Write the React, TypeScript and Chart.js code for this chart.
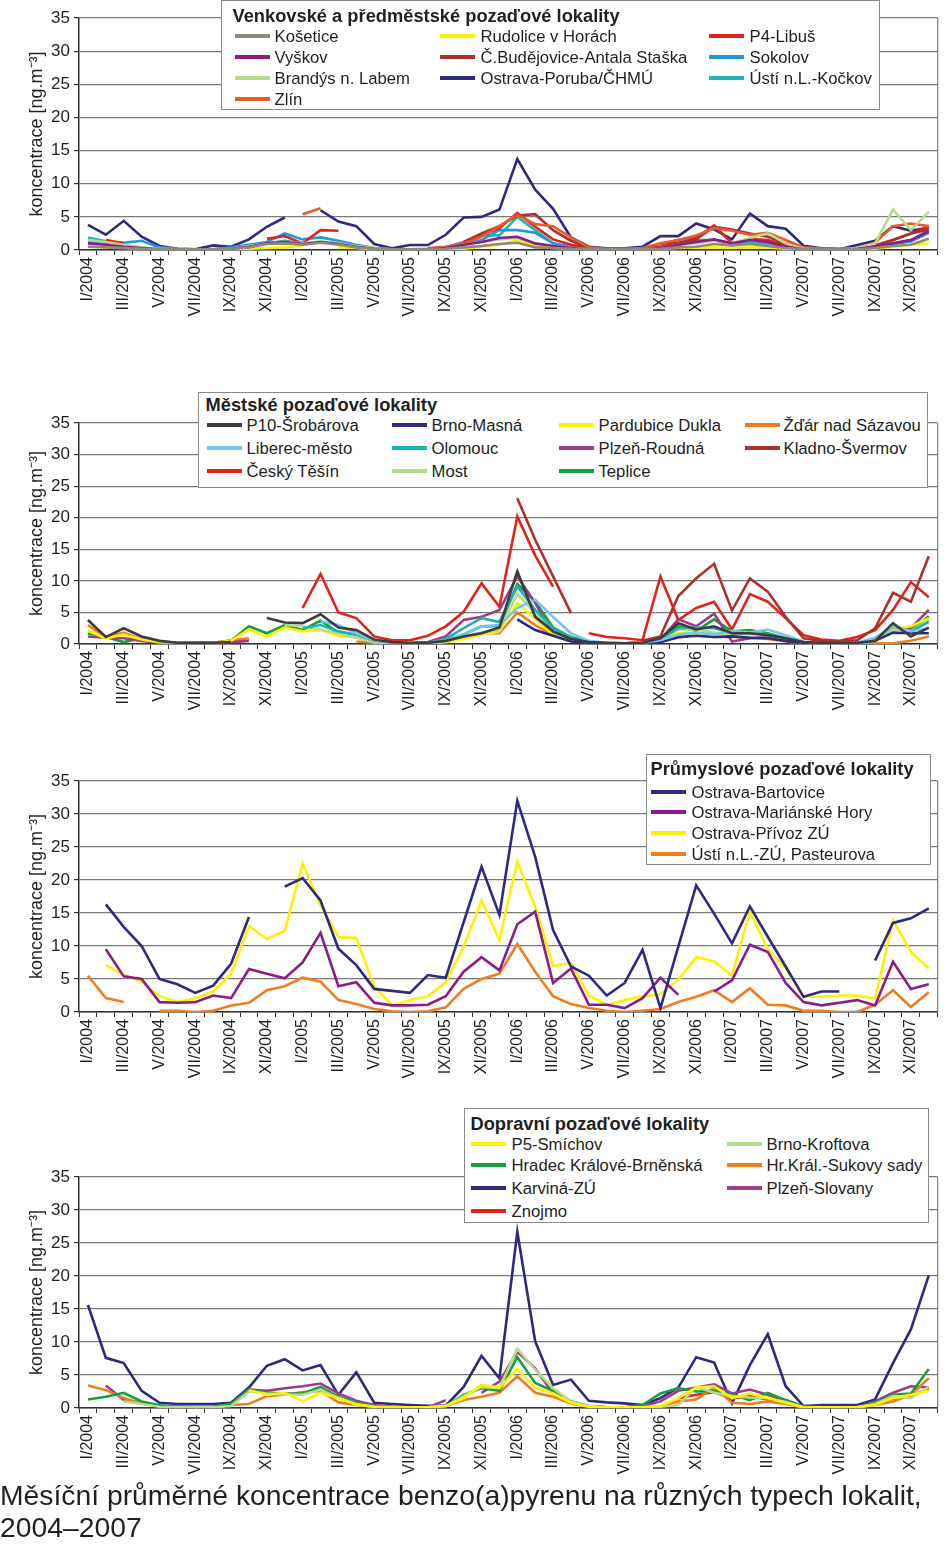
import React, { useEffect, useRef } from 'react';
import { Chart, registerables } from 'chart.js';

Chart.register(...registerables);

const FONT = "'Liberation Sans', Arial, Helvetica, sans-serif";
const TEXT = '#231f20';

const CATEGORIES = [
  'I/2004', 'II/2004', 'III/2004', 'IV/2004', 'V/2004', 'VI/2004', 'VII/2004', 'VIII/2004', 'IX/2004', 'X/2004', 'XI/2004', 'XII/2004',
  'I/2005', 'II/2005', 'III/2005', 'IV/2005', 'V/2005', 'VI/2005', 'VII/2005', 'VIII/2005', 'IX/2005', 'X/2005', 'XI/2005', 'XII/2005',
  'I/2006', 'II/2006', 'III/2006', 'IV/2006', 'V/2006', 'VI/2006', 'VII/2006', 'VIII/2006', 'IX/2006', 'X/2006', 'XI/2006', 'XII/2006',
  'I/2007', 'II/2007', 'III/2007', 'IV/2007', 'V/2007', 'VI/2007', 'VII/2007', 'VIII/2007', 'IX/2007', 'X/2007', 'XI/2007', 'XII/2007',
];

const Y_TICKS = [0, 5, 10, 15, 20, 25, 30, 35];
const Y_TITLE = 'koncentrace [ng.m⁻³]';
const _ = null;

// ---------- Panel 1: Venkovské a předměstské pozaďové lokality ----------
const kosetice = [
  0.5, 0.4, 0.3, 0.2, 0.1, 0.1, 0.1, 0.1, 0.2, 0.4, 0.9, 1.0,
  0.8, 1.1, 0.8, 0.4, 0.2, 0.1, 0.1, 0.1, 0.2, 0.4, 0.6, 0.9,
  1.1, 0.4, 0.3, 0.2, 0.1, 0.1, 0.1, 0.1, 0.2, 0.4, 0.5, 0.9,
  0.7, 0.9, 0.6, 0.3, 0.1, 0.1, 0.1, 0.1, 0.3, 0.6, 0.8, 1.7,
];
const vyskov = [
  1.0, 0.8, 0.5, 0.3, 0.1, 0.1, 0.1, 0.1, 0.2, 0.5, 1.0, 1.2,
  0.9, 1.2, 0.9, 0.5, 0.2, 0.1, 0.1, 0.1, 0.3, 0.8, 1.2, 1.8,
  2.0, 1.0, 0.6, 0.3, 0.1, 0.1, 0.1, 0.1, 0.3, 0.8, 1.2, 1.6,
  1.0, 1.5, 1.2, 0.5, 0.1, 0.1, 0.1, 0.2, 0.5, 1.0, 1.5, 2.8,
];
const brandys = [
  1.5, 1.2, 0.8, 0.4, 0.2, 0.1, 0.1, 0.1, 0.2, 0.6, 1.0, 1.2,
  1.0, 1.3, 1.0, 0.6, 0.3, 0.1, 0.1, 0.1, 0.3, 0.8, 1.2, 1.6,
  1.8, 0.9, 0.6, 0.3, 0.1, 0.1, 0.1, 0.1, 0.3, 0.8, 1.0, 1.4,
  1.0, 1.8, 2.5, 1.0, 0.2, 0.1, 0.1, 0.3, 1.0, 6.1, 3.0, 5.8,
];
const zlin = [
  _, _, _, _, _, _, _, _, _, _, _, _,
  5.4, 6.3, _, _, _, _, _, 0.3, 0.5, 1.0, 2.0, 3.6,
  5.3, 3.9, 3.6, 1.9, 0.4, 0.2, 0.2, 0.3, 1.0, 1.5, 2.2, 3.3,
  2.9, 2.3, 2.6, 1.5, 0.4, 0.2, 0.2, 0.3, 1.1, 3.6, 4.0, 3.6,
];
const rudolice = [
  0.6, 0.4, 0.3, 0.2, 0.1, 0.1, 0.1, 0.1, 0.1, 0.2, 0.3, 0.4,
  0.6, _, 0.4, 0.3, 0.1, 0.1, 0.0, 0.0, 0.1, 0.2, 0.5, 0.8,
  1.5, 0.6, 0.3, 0.2, 0.1, 0.0, 0.0, 0.1, 0.2, 0.3, 0.4, 0.4,
  0.3, 0.4, 0.4, 0.2, 0.1, 0.0, 0.0, 0.1, 0.2, 0.5, 0.8, 1.0,
];
const budejovice = [
  _, _, _, _, _, _, _, _, _, _, _, _,
  _, _, _, _, _, _, _, _, _, 1.2, 2.5, 3.6,
  5.2, 5.4, 3.0, 1.4, 0.3, _, _, _, 1.0, 1.1, 1.6, 3.5,
  3.1, 2.5, 2.0, 1.0, 0.3, 0.2, 0.1, 0.2, 0.6, 1.5, 2.5, 3.1,
];
const poruba = [
  3.8, 2.3, 4.4, 2.0, 0.6, 0.2, 0.1, 0.7, 0.5, 1.6, 3.5, 4.9,
  _, 6.0, 4.3, 3.6, 0.9, 0.25, 0.75, 0.75, 2.3, 4.9, 5.0, 6.1,
  13.7, 9.1, 6.2, 1.9, 0.5, 0.25, 0.25, 0.5, 2.1, 2.1, 4.0, 3.1,
  1.6, 5.5, 3.6, 3.2, 0.65, 0.25, 0.1, 0.75, 1.4, 3.6, 2.9, 3.4,
];
const libus = [
  _, 1.5, 1.0, _, _, _, _, _, _, _, 1.7, 2.1,
  1.0, 3.0, 2.9, _, _, _, _, _, 0.3, 1.0, 2.2, 3.3,
  5.6, 3.5, 1.6, 0.8, 0.3, 0.1, 0.1, 0.2, 0.5, 1.0, 1.8, 3.7,
  1.0, 1.7, 1.5, 0.8, 0.2, 0.1, 0.1, 0.2, 0.7, 1.5, 2.5, 3.5,
];
const sokolov = [
  1.2, 1.1, 1.1, 1.4, 0.4, 0.2, 0.1, 0.1, 0.4, 0.8, 1.2, 2.5,
  1.6, 1.9, 1.4, 0.8, 0.3, 0.1, 0.1, 0.2, 0.4, 0.9, 1.5, 3.0,
  3.0, 2.6, 1.0, 0.5, 0.2, 0.1, 0.1, 0.2, 0.5, 1.0, 1.5, 1.5,
  0.7, 1.8, 1.2, 0.6, 0.2, 0.1, 0.1, 0.2, 0.5, 0.9, 1.3, 2.6,
];
const ustiKockov = [
  1.9, 1.3, 0.7, 0.3, 0.2, 0.1, 0.1, 0.1, 0.3, 0.7, 1.0, 1.4,
  1.0, 1.2, 1.0, 0.6, 0.2, 0.1, 0.1, 0.1, 0.4, 1.2, 2.2, 2.2,
  5.0, 3.0, 1.0, 0.4, 0.2, 0.1, 0.1, 0.2, 0.9, 1.5, 2.0, _,
  0.8, 1.2, 0.9, 0.5, 0.2, 0.1, 0.1, 0.2, 0.6, 1.0, 1.5, 3.0,
];

// ---------- Panel 2: Městské pozaďové lokality ----------
const p10 = [
  3.8, 1.1, 2.5, 1.2, 0.5, 0.2, 0.2, 0.2, 0.3, _, 4.1, 3.4,
  3.3, 4.7, 2.6, 2.2, 0.7, 0.3, 0.2, 0.2, 0.5, 1.2, 1.7, 2.6,
  11.5, 4.3, 2.0, 0.8, 0.3, 0.2, 0.1, 0.2, 0.9, 3.3, 2.3, 2.8,
  1.7, 1.7, 1.4, 0.9, 0.3, 0.2, 0.1, 0.2, 0.5, 3.3, 1.2, 2.6,
];
const brnoMasna = [
  _, _, _, _, _, _, _, _, _, _, _, _,
  _, _, _, _, _, _, _, _, _, _, _, _,
  3.9, 2.2, 1.3, 0.4, 0.2, 0.1, 0.1, 0.1, 0.3, 1.1, 1.3, 1.1,
  1.2, 1.0, 0.9, 0.5, 0.2, 0.1, 0.1, 0.2, 0.5, 1.8, 1.7, 1.7,
];
const liberec = [
  _, _, _, _, _, _, _, _, _, _, _, _,
  _, 3.6, 3.0, 1.7, 0.6, 0.2, 0.1, 0.2, 0.6, 1.5, 2.8, 3.0,
  5.7, 7.0, 4.3, 1.7, 0.5, 0.2, 0.1, 0.2, 0.6, 1.5, 1.8, 1.5,
  2.1, 1.8, 2.3, 1.4, 0.4, 0.1, 0.1, 0.2, 1.0, 2.8, 2.0, 2.5,
];
const ceskyTesin = [
  _, _, _, _, _, _, _, _, _, _, _, _,
  5.7, 11.1, 5.0, 4.1, 1.2, 0.6, 0.6, 1.3, 2.8, 5.1, 9.6, 5.9,
  20.2, 14.0, 9.1, _, 1.7, 1.1, 0.9, 0.6, 10.7, 3.8, 5.7, 6.7,
  2.3, 7.9, 6.7, 4.1, 1.4, 0.7, 0.5, 1.1, 2.2, 5.4, 9.8, 7.4,
];
const olomouc = [
  _, _, _, _, _, _, _, _, _, _, _, _,
  2.5, 3.0, 2.0, 1.5, 0.5, 0.2, 0.1, 0.2, 0.8, 2.5, 4.1, 3.5,
  9.1, 5.4, 2.5, 1.0, 0.3, 0.1, 0.1, 0.2, 0.8, 2.5, 2.6, 2.5,
  1.7, 1.8, 1.5, 0.9, 0.3, 0.1, 0.1, 0.2, 0.8, 2.8, 2.0, 3.5,
];
const most = [
  _, _, _, _, _, _, _, _, _, _, _, 3.0,
  2.8, 2.3, 1.7, 1.0, 0.3, 0.1, 0.1, 0.1, 0.4, 1.2, 1.8, 2.2,
  7.9, 4.9, 1.8, 0.7, 0.2, 0.1, 0.1, 0.1, 0.5, 2.3, 2.3, 1.8,
  1.5, 1.6, 1.4, 0.7, 0.2, 0.1, 0.1, 0.1, 0.5, 2.3, 2.1, 3.8,
];
const pardubice = [
  2.1, 0.9, 1.5, 0.7, 0.3, 0.2, 0.1, 0.1, 0.5, 2.3, 1.2, 2.6,
  2.0, 2.2, 1.3, 1.1, 0.3, 0.1, 0.1, 0.1, 0.3, 0.8, 1.5, 2.0,
  6.5, 4.0, 1.5, 0.6, 0.2, 0.1, 0.1, 0.1, 0.4, 1.8, 1.5, 1.6,
  1.7, 1.8, 1.5, 0.8, 0.2, 0.1, 0.1, 0.1, 0.5, 2.3, 2.8, 4.1,
];
const plzenRoudna = [
  1.2, 1.0, 0.9, 0.5, 0.2, 0.1, 0.1, 0.1, 0.3, 0.5, _, _,
  _, _, _, _, 0.3, 0.1, 0.1, 0.3, 1.2, 3.8, 4.3, 5.4,
  10.7, 6.5, 1.4, 0.5, 0.2, 0.1, 0.1, 0.2, 0.7, 3.9, 2.8, 4.8,
  0.4, 0.9, 1.1, 0.5, 0.1, 0.1, 0.1, 0.2, 0.5, 2.5, 2.5, 5.4,
];
const teplice = [
  1.7, 1.1, 0.3, 0.9, 0.4, 0.2, 0.2, 0.2, 0.5, 2.8, 1.7, 3.0,
  2.2, 3.7, 1.8, 1.2, 0.3, 0.1, 0.1, 0.2, 0.6, 1.5, 2.8, 2.8,
  9.5, 6.7, 2.6, 1.1, 0.4, 0.1, 0.1, 0.2, 0.7, 2.8, 2.1, 3.9,
  2.0, 2.2, 1.7, 0.9, 0.3, 0.1, 0.1, 0.2, 0.6, 2.8, 2.2, 4.4,
];
const zdar = [
  3.0, 1.1, 1.8, 0.7, 0.3, 0.1, 0.1, 0.2, 0.6, 0.9, _, _,
  _, _, _, 0.4, 0.2, _, _, _, 0.3, 1.0, 1.7, 1.7,
  5.0, 3.0, 1.4, 0.6, 0.2, 0.1, 0.1, 0.1, 0.4, 1.0, 1.4, 1.1,
  1.1, 1.0, 0.8, 0.4, 0.1, 0.0, 0.0, 0.1, 0.1, 0.1, 0.5, 1.2,
];
const kladno = [
  _, _, _, _, _, _, _, _, _, _, _, _,
  _, _, _, _, _, _, _, _, _, _, _, _,
  23.1, 16.5, 10.7, 4.9, _, _, _, 0.5, 1.2, 7.6, 10.4, 12.7,
  5.3, 10.4, 8.3, 4.3, 0.9, 0.5, 0.4, 0.6, 2.5, 8.1, 6.7, 13.9,
];

// ---------- Panel 3: Průmyslové pozaďové lokality ----------
const bartovice = [
  _, 16.3, 12.9, 10.0, 5.0, 4.2, 2.9, 4.0, 7.3, 14.4, _, 19.0,
  20.3, 16.9, 9.6, 7.1, 3.5, 3.2, 2.9, 5.6, 5.2, 13.6, 22.0, 14.7,
  32.0, 23.5, 12.4, 6.9, 5.5, 2.5, 4.4, 9.4, 0.6, 9.9, 19.2, 14.9,
  10.4, 16.0, 11.4, 6.9, 2.3, 3.1, 3.1, _, 7.8, 13.5, 14.2, 15.7,
];
const marianske = [
  _, 9.5, 5.4, 5.0, 1.5, 1.4, 1.5, 2.5, 2.1, 6.5, 5.8, 5.1,
  7.5, 12.0, 3.9, 4.5, 1.4, 1.0, 1.0, 1.1, 2.4, 6.1, 8.3, 6.3,
  13.3, 15.2, 4.4, 6.6, 1.1, 1.1, 0.6, 2.1, 5.2, 2.6, _, 3.1,
  4.8, 10.2, 9.1, 4.4, 1.5, 1.0, 1.4, 1.8, 1.0, 7.6, 3.5, 4.2,
];
const privoz = [
  _, 7.1, 5.6, 4.6, 2.4, 1.5, 2.1, 3.1, 5.8, 13.0, 11.1, 12.3,
  22.5, 16.2, 11.4, 11.2, 3.9, 1.0, 1.8, 2.4, 4.5, 9.9, 16.9, 10.9,
  22.8, 15.9, 7.0, 7.4, 2.5, 1.1, 1.8, 2.4, 2.7, 4.9, 8.3, 7.7,
  5.5, 15.2, 9.5, 6.6, 2.3, 2.3, 2.5, 2.5, 2.0, 13.9, 9.1, 6.6,
];
const pasteurova = [
  5.5, 2.1, 1.5, _, 0.2, 0.2, 0.0, 0.2, 1.0, 1.4, 3.3, 3.9,
  5.2, 4.6, 1.8, 1.2, 0.45, 0.1, 0.0, 0.1, 0.7, 3.5, 5.0, 5.8,
  10.3, 6.1, 2.4, 1.2, 0.6, 0.2, 0.0, 0.2, 0.45, 1.5, 2.3, 3.3,
  1.5, 3.6, 1.1, 1.0, 0.2, 0.2, 0.0, 0.0, 1.1, 3.3, 0.75, 3.0,
];

// ---------- Panel 4: Dopravní pozaďové lokality ----------
const smichov = [
  _, _, _, _, _, _, _, _, _, 2.7, 2.0, 2.3,
  1.0, 2.3, 1.5, 0.5, 0.2, 0.1, 0.1, 0.1, 0.3, 1.5, 3.5, 3.1,
  5.9, 3.1, 2.2, 0.8, 0.2, 0.1, 0.1, 0.1, 0.3, 1.5, 3.1, 3.3,
  1.5, 2.2, 1.5, 0.8, 0.1, 0.1, 0.1, 0.1, 0.5, 1.5, 2.0, 2.6,
];
const hradecBrnenska = [
  1.3, 1.7, 2.3, 1.0, 0.4, 0.2, 0.2, 0.2, 0.6, 2.8, 2.3, 2.2,
  2.2, 3.2, 1.7, 0.8, 0.3, 0.1, 0.1, 0.1, 0.3, 2.0, 3.0, 2.6,
  7.7, 3.8, 2.6, 1.0, 0.3, 0.1, 0.1, 0.45, 2.2, 3.0, 2.5, 2.6,
  2.0, 1.2, 2.3, 1.2, 0.2, 0.1, 0.1, 0.1, 0.8, 2.0, 2.2, 5.9,
];
const karvina = [
  15.6, 7.6, 6.8, 2.6, 0.8, 0.6, 0.6, 0.6, 0.8, 3.1, 6.4, 7.4,
  5.7, 6.5, 2.0, 5.4, 0.8, 0.6, 0.45, 0.35, 0.35, 3.2, 7.9, 4.5,
  26.7, 10.1, 3.5, 4.3, 1.1, 0.85, 0.7, 0.45, 1.5, 3.1, 7.7, 6.9,
  0.7, 6.5, 11.2, 3.3, 0.3, 0.45, 0.45, 0.45, 1.3, 6.8, 11.9, 20.1,
];
const znojmo = [
  _, _, _, _, _, _, _, _, _, _, _, _,
  _, _, _, _, _, _, _, _, _, _, _, _,
  _, _, _, _, _, _, _, _, _, 1.5, 2.0, 2.4,
  1.5, 1.8, 1.3, 1.2, 0.2, 0.1, 0.1, 0.2, 0.7, 1.4, 1.8, 3.0,
];
const kroftova = [
  _, _, 1.0, 0.6, 0.2, 0.1, 0.1, 0.1, 0.3, 2.5, 2.2, 2.0,
  2.0, 2.8, 1.5, 0.6, 0.2, 0.1, 0.1, 0.1, 0.3, 1.8, 3.2, 3.0,
  9.0, 5.8, 3.0, 1.0, 0.3, 0.1, 0.1, 0.1, 0.2, 0.45, 3.2, 2.3,
  1.8, 1.6, 1.5, 0.9, 0.1, 0.1, 0.1, 0.1, 0.6, 1.8, 1.5, 3.2,
];
const sukovySady = [
  3.4, 2.7, 1.5, 0.7, 0.3, 0.2, 0.2, 0.2, 0.45, 0.6, 1.8, 2.0,
  2.4, 2.6, 0.85, 0.45, 0.2, 0.1, 0.1, 0.1, 0.3, 1.2, 1.7, 2.3,
  4.8, 2.3, 1.7, 0.7, 0.2, 0.1, 0.1, 0.1, 0.3, 1.0, 1.3, 3.1,
  0.8, 0.6, 1.0, 0.6, 0.1, 0.1, 0.0, 0.1, 0.45, 1.0, 2.0, 4.5,
];
const plzenSlovany = [
  _, 3.4, 1.2, 0.8, 0.3, 0.2, 0.1, 0.1, 0.6, 2.8, 2.6, 3.0,
  3.3, 3.7, 2.2, 1.1, 0.45, 0.2, 0.1, 0.1, 1.2, _, 2.3, 4.0,
  8.5, 6.0, 2.2, 1.0, 0.3, 0.1, 0.1, 0.3, 1.0, 2.6, 3.1, 3.6,
  2.2, 2.8, 2.0, 1.0, 0.2, 0.1, 0.1, 0.1, 1.0, 2.3, 3.3, 3.1,
];

type Series = { label: string; color: string; data: (number | null)[]; col: number; row: number };
type LegendCfg = {
  left: number; top: number; width: number; height: number;
  title: string; titleX: number; titleY: number;
  lineX: number[]; textX: number[]; rowY: number[];
};
type PanelCfg = {
  top: number; height: number; padTop: number; xAxisH: number;
  series: Series[]; legend: LegendCfg;
};

const NAVY = '#2e2a7f';
const YELLOW = '#fff200';
const LGREEN = '#b7da8c';
const RED = '#e2231a';
const ORANGE = '#f07d1e';
const GREEN = '#15a040';
const PURPLE = '#8e1b87';
const MAUVE = '#9e3d84';

const PANELS: PanelCfg[] = [
  {
    top: 0, height: 340, padTop: 18, xAxisH: 90,
    series: [
      { label: 'Košetice', color: '#8d8b78', data: kosetice, col: 0, row: 0 },
      { label: 'Vyškov', color: PURPLE, data: vyskov, col: 0, row: 1 },
      { label: 'Brandýs n. Labem', color: LGREEN, data: brandys, col: 0, row: 2 },
      { label: 'Zlín', color: '#ea5a2a', data: zlin, col: 0, row: 3 },
      { label: 'Rudolice v Horách', color: YELLOW, data: rudolice, col: 1, row: 0 },
      { label: 'Č.Budějovice-Antala Staška', color: '#a8322c', data: budejovice, col: 1, row: 1 },
      { label: 'P4-Libuš', color: RED, data: libus, col: 2, row: 0 },
      { label: 'Sokolov', color: '#1f9ae0', data: sokolov, col: 2, row: 1 },
      { label: 'Ústí n.L.-Kočkov', color: '#22b4b8', data: ustiKockov, col: 2, row: 2 },
      { label: 'Ostrava-Poruba/ČHMÚ', color: NAVY, data: poruba, col: 1, row: 2 },
    ],
    legend: {
      left: 221, top: 0, width: 659, height: 110,
      title: 'Venkovské a předměstské pozaďové lokality', titleX: 233, titleY: 15,
      lineX: [235, 440, 709], textX: [275, 481, 750], rowY: [36, 57, 78, 99],
    },
  },
  {
    top: 380, height: 354, padTop: 43, xAxisH: 90,
    series: [
      { label: 'P10-Šrobárova', color: '#3d3d3f', data: p10, col: 0, row: 0 },
      { label: 'Liberec-město', color: '#72c7ef', data: liberec, col: 0, row: 1 },
      { label: 'Brno-Masná', color: NAVY, data: brnoMasna, col: 1, row: 0 },
      { label: 'Olomouc', color: '#1fb0b0', data: olomouc, col: 1, row: 1 },
      { label: 'Most', color: LGREEN, data: most, col: 1, row: 2 },
      { label: 'Pardubice Dukla', color: YELLOW, data: pardubice, col: 2, row: 0 },
      { label: 'Plzeň-Roudná', color: MAUVE, data: plzenRoudna, col: 2, row: 1 },
      { label: 'Žďár nad Sázavou', color: ORANGE, data: zdar, col: 3, row: 0 },
      { label: 'Teplice', color: GREEN, data: teplice, col: 2, row: 2 },
      { label: 'Kladno-Švermov', color: '#a8322c', data: kladno, col: 3, row: 1 },
      { label: 'Český Těšín', color: RED, data: ceskyTesin, col: 0, row: 2 },
    ],
    legend: {
      left: 198, top: 392, width: 730, height: 96,
      title: 'Městské pozaďové lokality', titleX: 206, titleY: 404,
      lineX: [207, 392, 559, 745], textX: [247, 432, 599, 784], rowY: [425, 448, 471],
    },
  },
  {
    top: 740, height: 362, padTop: 41, xAxisH: 90,
    series: [
      { label: 'Ostrava-Bartovice', color: NAVY, data: bartovice, col: 0, row: 0 },
      { label: 'Ostrava-Mariánské Hory', color: PURPLE, data: marianske, col: 0, row: 1 },
      { label: 'Ostrava-Přívoz ZÚ', color: YELLOW, data: privoz, col: 0, row: 2 },
      { label: 'Ústí n.L.-ZÚ, Pasteurova', color: ORANGE, data: pasteurova, col: 0, row: 3 },
    ],
    legend: {
      left: 646, top: 754, width: 285, height: 111,
      title: 'Průmyslové pozaďové lokality', titleX: 651, titleY: 768,
      lineX: [651], textX: [692], rowY: [792, 812, 833, 854],
    },
  },
  {
    top: 1105, height: 393, padTop: 72, xAxisH: 90,
    series: [
      { label: 'P5-Smíchov', color: YELLOW, data: smichov, col: 0, row: 0 },
      { label: 'Brno-Kroftova', color: LGREEN, data: kroftova, col: 1, row: 0 },
      { label: 'Hradec Králové-Brněnská', color: GREEN, data: hradecBrnenska, col: 0, row: 1 },
      { label: 'Hr.Král.-Sukovy sady', color: ORANGE, data: sukovySady, col: 1, row: 1 },
      { label: 'Znojmo', color: RED, data: znojmo, col: 0, row: 3 },
      { label: 'Plzeň-Slovany', color: MAUVE, data: plzenSlovany, col: 1, row: 2 },
      { label: 'Karviná-ZÚ', color: NAVY, data: karvina, col: 0, row: 2 },
    ],
    legend: {
      left: 464, top: 1108, width: 465, height: 115,
      title: 'Dopravní pozaďové lokality', titleX: 471, titleY: 1123,
      lineX: [471, 727], textX: [512, 767], rowY: [1144, 1165, 1188, 1211],
    },
  },
];

const framePlugin = {
  id: 'frameRight',
  beforeDatasetsDraw(chart: any) {
    const { ctx, chartArea: a } = chart;
    ctx.save();
    ctx.strokeStyle = '#7a7a7a';
    ctx.lineWidth = 1.2;
    ctx.beginPath();
    ctx.moveTo(a.right, a.top);
    ctx.lineTo(a.right, a.bottom);
    ctx.stroke();
    ctx.restore();
  },
};

function Panel({ cfg }: { cfg: PanelCfg }) {
  const ref = useRef<HTMLCanvasElement | null>(null);
  useEffect(() => {
    if (!ref.current) return;
    const chart = new Chart(ref.current, {
      type: 'line',
      data: {
        labels: CATEGORIES,
        datasets: cfg.series.map((s) => ({
          label: s.label,
          data: s.data,
          borderColor: s.color,
          backgroundColor: s.color,
          borderWidth: 2.6,
          pointRadius: 0,
          pointHoverRadius: 0,
          tension: 0,
          fill: false,
          spanGaps: false,
        })),
      },
      options: {
        responsive: false,
        animation: false,
        events: [],
        layout: { padding: { top: cfg.padTop, right: 2, bottom: 0, left: 0 } },
        plugins: { legend: { display: false }, tooltip: { enabled: false } },
        scales: {
          x: {
            type: 'category',
            offset: true,
            grid: { display: true, drawOnChartArea: false, drawTicks: true, tickLength: 5, color: '#333', offset: true, lineWidth: 1 },
            border: { color: '#333', width: 1.5 },
            ticks: {
              autoSkip: false,
              maxRotation: 90,
              minRotation: 90,
              padding: 2,
              color: TEXT,
              font: { family: FONT, size: 16 },
              callback: (_v: any, i: number) => (i % 2 === 0 ? CATEGORIES[i] : ''),
            },
            afterFit: (s: any) => { s.height = cfg.xAxisH; },
          },
          y: {
            min: 0,
            max: 35,
            afterBuildTicks: (s: any) => { s.ticks = Y_TICKS.map((v) => ({ value: v })); },
            ticks: { color: TEXT, padding: 4, font: { family: FONT, size: 17 } },
            grid: { color: '#7a7a7a', lineWidth: 1.2, tickLength: 5, tickColor: '#333' },
            border: { color: '#333', width: 1.5 },
            title: {
              display: true,
              text: Y_TITLE,
              color: TEXT,
              font: { family: FONT, size: 18 },
              padding: { top: 26, bottom: 0 },
            },
            afterFit: (s: any) => { s.width = 79; },
          },
        },
      },
      plugins: [framePlugin],
    } as any);
    return () => chart.destroy();
  }, [cfg]);

  const L = cfg.legend;
  return (
    <>
      <canvas
        ref={ref}
        width={950}
        height={cfg.height}
        style={{ position: 'absolute', left: 0, top: cfg.top, width: 950, height: cfg.height }}
      />
      <div
        style={{
          position: 'absolute', left: L.left, top: L.top, width: L.width, height: L.height,
          boxSizing: 'border-box', border: '1.5px solid #8a8a8a', background: '#fff',
          fontFamily: FONT, color: TEXT,
        }}
      >
        <div
          style={{
            position: 'absolute', left: L.titleX - L.left - 1.5, top: L.titleY - L.top - 12,
            height: 24, lineHeight: '24px', fontWeight: 'bold', fontSize: 18.3, whiteSpace: 'nowrap',
          }}
        >
          {L.title}
        </div>
        {cfg.series.map((s) => (
          <React.Fragment key={s.label}>
            <div
              style={{
                position: 'absolute', left: L.lineX[s.col] - L.left - 1.5, top: L.rowY[s.row] - L.top - 1.5 - 1.5,
                width: 35, height: 3.5, background: s.color,
              }}
            />
            <div
              style={{
                position: 'absolute', left: L.textX[s.col] - L.left - 1.5, top: L.rowY[s.row] - L.top - 11.5,
                height: 22, lineHeight: '22px', fontSize: 16.7, whiteSpace: 'nowrap',
              }}
            >
              {s.label}
            </div>
          </React.Fragment>
        ))}
      </div>
    </>
  );
}

export default function App() {
  return (
    <div style={{ position: 'absolute', left: 0, top: 0, width: 950, height: 1548, background: '#fff', overflow: 'hidden' }}>
      {PANELS.map((p, i) => (
        <Panel key={i} cfg={p} />
      ))}
      <div
        style={{
          position: 'absolute', left: 0, top: 1479, width: 950, fontFamily: FONT, fontSize: 28.3,
          lineHeight: '32px', color: TEXT, whiteSpace: 'nowrap',
        }}
      >
        Měsíční průměrné koncentrace benzo(a)pyrenu na různých typech lokalit,
        <br />
        2004–2007
      </div>
    </div>
  );
}
